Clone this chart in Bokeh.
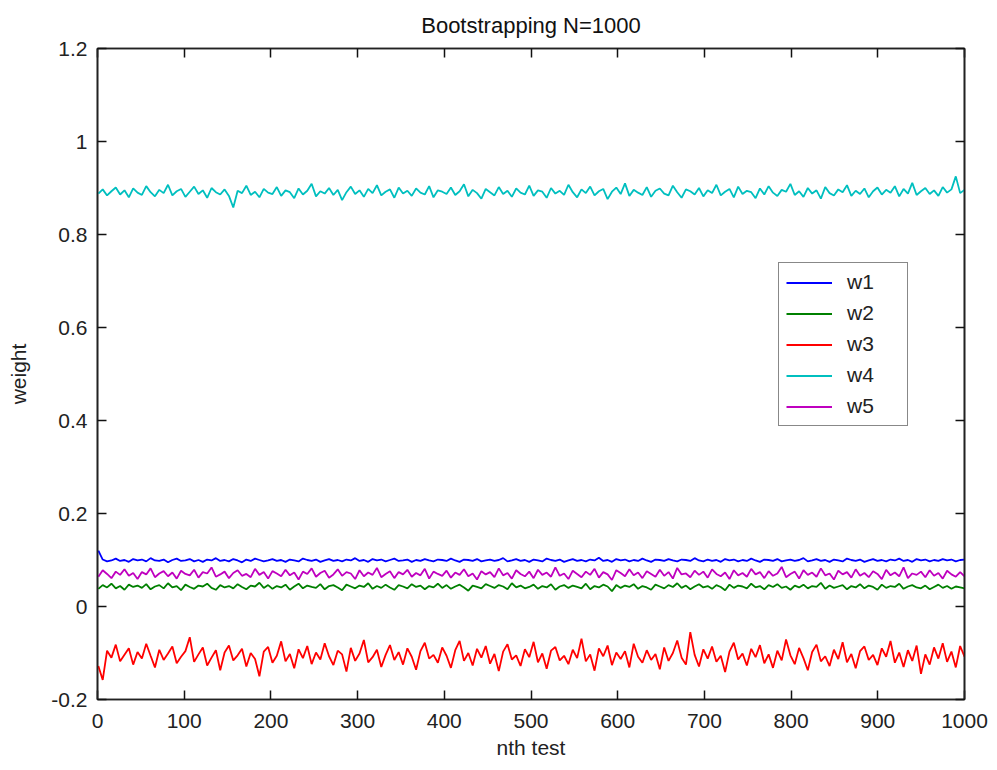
import numpy as np
from bokeh.plotting import figure
from bokeh.models import (Range1d, LinearAxis, FixedTicker, CustomJSTickFormatter,
                          Legend, LegendItem, ColumnDataSource)
from bokeh.embed import file_html
from bokeh.resources import INLINE

# ---------------- data (weights in thousandths) ----------------
n_tests = 1000
n_samples = 200

x_ticks = [0, 100, 200, 300, 400, 500, 600, 700, 800, 900, 1000]
y_ticks = [-0.2, 0, 0.2, 0.4, 0.6, 0.8, 1, 1.2]
y_tick_labels = ["-0.2", "0", "0.2", "0.4", "0.6", "0.8", "1", "1.2"]

w1_milli = [
    120, 101, 97, 99, 103, 98, 100, 96, 102, 99,
    101, 97, 104, 99, 98, 101, 95, 100, 103, 98,
    99, 102, 97, 100, 96, 101, 99, 104, 98, 100,
    97, 102, 99, 95, 101, 98, 103, 100, 97, 99,
    102, 98, 100, 96, 101, 99, 97, 103, 100, 98,
    101, 96, 99, 102, 98, 100, 97, 101, 99, 104,
    98, 100, 96, 102, 99, 101, 97, 100, 103, 98,
    99, 101, 96, 100, 98, 102, 99, 97, 101, 100,
    98, 103, 99, 96, 101, 100, 98, 102, 97, 99,
    101, 98, 100, 104, 97, 99, 102, 98, 100, 96,
    101, 99, 97, 103, 100, 98, 101, 96, 99, 102,
    98, 100, 97, 101, 99, 105, 98, 100, 96, 102,
    99, 101, 97, 100, 98, 103, 99, 96, 101, 100,
    98, 102, 99, 97, 101, 100, 98, 104, 99, 97,
    101, 98, 100, 96, 102, 99, 101, 97, 100, 98,
    103, 99, 96, 101, 100, 98, 102, 97, 99, 101,
    98, 100, 104, 97, 99, 102, 98, 100, 96, 101,
    99, 97, 103, 100, 98, 101, 96, 99, 102, 98,
    100, 97, 101, 99, 103, 98, 100, 96, 102, 99,
    101, 97, 100, 98, 102, 99, 101, 97, 100, 101,
]

w2_milli = [
    38, 46, 41, 49, 39, 44, 36, 47, 42, 45,
    40, 48, 37, 43, 46, 39, 50, 41, 44, 35,
    47, 42, 38, 45, 43, 49, 40, 36, 46, 41,
    44, 39, 48, 42, 37, 45, 43, 51, 40, 46,
    38, 44, 41, 47, 36, 43, 49, 39, 45, 42,
    40, 48, 37, 44, 46, 41, 35, 47, 43, 39,
    45, 42, 50, 38, 44, 40, 47, 41, 36, 46,
    43, 39, 48, 42, 45, 37, 44, 41, 49, 40,
    46, 38, 43, 47, 41, 34, 45, 42, 39, 48,
    44, 40, 46, 43, 37, 50, 41, 45, 39, 42,
    47, 38, 44, 41, 48, 36, 43, 46, 40, 45,
    42, 39, 49, 37, 44, 41, 47, 43, 33, 46,
    40, 45, 42, 48, 38, 44, 41, 36, 47, 43,
    39, 46, 42, 50, 40, 45, 37, 43, 48, 41,
    44, 38, 46, 42, 35, 47, 40, 45, 43, 39,
    49, 41, 44, 37, 46, 42, 48, 40, 43, 36,
    45, 41, 47, 39, 44, 42, 51, 38, 45, 40,
    43, 46, 37, 44, 41, 48, 39, 45, 42, 36,
    47, 40, 44, 42, 49, 38, 43, 46, 41, 39,
    45, 37, 42, 47, 40, 44, 38, 43, 41, 39,
]

w3_milli = [
    -128, -158, -95, -110, -82, -118, -104, -90, -125, -98,
    -112, -80, -106, -131, -93, -115, -101, -86, -122, -108,
    -96, -66, -119, -103, -88, -127, -110, -94, -137, -99,
    -84, -116, -105, -91, -129, -100, -113, -150, -97, -87,
    -121, -106, -75, -118, -102, -133, -92, -111, -85, -124,
    -99, -114, -79, -107, -126, -95, -103, -140, -89, -117,
    -101, -72, -120, -109, -93, -130, -104, -83, -115, -98,
    -125, -90, -108, -136, -96, -78, -112, -104, -121, -88,
    -106, -132, -94, -74, -117, -100, -127, -91, -110, -85,
    -123, -102, -139, -97, -81, -114, -105, -128, -92, -109,
    -76, -120, -101, -134, -95, -87, -116, -106, -124, -93,
    -111, -69, -118, -103, -138, -90, -107, -84, -126, -99,
    -113, -96, -131, -80, -108, -121, -94, -115, -102, -135,
    -88, -117, -100, -73, -110, -125, -55, -104, -129, -92,
    -112, -86, -119, -106, -141, -97, -78, -114, -101, -127,
    -91, -109, -83, -122, -103, -132, -95, -116, -71, -105,
    -124, -89, -111, -137, -98, -82, -118, -107, -128, -93,
    -113, -77, -120, -102, -133, -96, -86, -115, -104, -126,
    -90, -108, -74, -121, -99, -130, -94, -117, -84, -145,
    -103, -125, -88, -112, -79, -119, -97, -131, -85, -108,
]

w4_milli = [
    888, 897, 884, 893, 901, 886, 895, 880, 899, 890,
    885, 904, 891, 882, 896, 889, 907, 884, 893, 898,
    881, 892, 903, 887, 895, 879, 900, 891, 886, 897,
    883, 858, 894, 889, 905, 885, 892, 880, 898, 890,
    887, 902, 883, 895, 891, 878, 899, 886, 894, 909,
    882, 893, 888, 900, 885, 896, 874, 891, 903, 887,
    895, 881, 898, 889, 906, 884, 892, 897, 879, 901,
    888, 894, 883, 899, 890, 886, 904, 880, 895, 892,
    887, 901, 885, 893, 908, 882, 896, 889, 877, 898,
    891, 884, 902, 887, 894, 881, 899, 890, 886, 905,
    883, 895, 892, 879, 900, 888, 894, 885, 907, 891,
    880, 897, 889, 903, 884, 893, 898, 876, 892, 901,
    887, 910, 883, 896, 890, 885, 902, 881, 894, 899,
    888, 884, 905, 891, 879, 897, 893, 886, 900, 882,
    895, 889, 907, 884, 892, 898, 880, 903, 887, 894,
    891, 878, 899, 886, 904, 890, 883, 896, 892, 909,
    885, 893, 881, 900, 888, 895, 877, 902, 889, 884,
    897, 891, 906, 883, 894, 887, 899, 880, 893, 901,
    886, 896, 890, 904, 882, 898, 888, 911, 885, 893,
    900, 887, 895, 883, 902, 890, 897, 925, 889, 896,
]

w5_milli = [
    64, 78, 70, 61, 75, 68, 80, 66, 72, 59,
    74, 69, 82, 63, 71, 76, 65, 73, 60, 77,
    70, 67, 79, 62, 74, 71, 84, 64, 69, 75,
    61, 72, 78, 66, 70, 63, 81, 68, 74, 60,
    76, 71, 65, 79, 67, 73, 58, 75, 70, 82,
    64, 72, 77, 62, 69, 80, 66, 74, 71, 59,
    78, 65, 73, 68, 83, 63, 70, 76, 61, 74,
    69, 79, 64, 72, 67, 81, 60, 75, 70, 66,
    77, 62, 73, 68, 80, 65, 71, 58, 76, 69,
    74, 63, 82, 67, 72, 60, 78, 70, 65, 75,
    61, 79, 68, 73, 64, 84, 66, 71, 59, 77,
    70, 63, 75, 68, 81, 62, 74, 69, 57, 78,
    72, 65, 80, 67, 73, 61, 76, 70, 64, 79,
    66, 74, 60, 83, 69, 71, 63, 77, 68, 75,
    62, 80, 70, 65, 73, 59, 78, 67, 72, 64,
    81, 69, 74, 61, 76, 66, 71, 85, 63, 70,
    75, 60, 78, 68, 73, 64, 82, 67, 71, 58,
    77, 69, 74, 62, 80, 66, 72, 63, 76, 70,
    59, 79, 67, 73, 65, 84, 61, 71, 68, 75,
    63, 78, 66, 72, 60, 77, 69, 64, 74, 65,
]

series_names = ["w1", "w2", "w3", "w4", "w5"]
series_colors = ["#0000FF", "#008000", "#FF0000", "#00BFBF", "#BF00BF"]
series_values = [w1_milli, w2_milli, w3_milli, w4_milli, w5_milli]

tests = np.linspace(1, n_tests, n_samples)

FONT = "Liberation Sans"

p = figure(width=990, height=765, output_backend="svg", toolbar_location=None,
           x_range=Range1d(0, 1000), y_range=Range1d(-0.2, 1.2),
           min_border_left=97, min_border_right=26, min_border_top=48, min_border_bottom=66,
           background_fill_color="white", border_fill_color="white")

p.title.text = "Bootstrapping N=1000"
p.title.align = "center"
p.title.vertical_align = "top"
p.title.text_font = FONT
p.title.text_font_size = "22px"
p.title.text_font_style = "normal"
p.title.text_color = "#111111"
p.title.standoff = 18

p.xgrid.visible = False
p.ygrid.visible = False
p.outline_line_color = "#222222"
p.outline_line_width = 1.6

bottom_axis = p.below[0]
left_axis = p.left[0]

empty_fmt = CustomJSTickFormatter(code="return '';")

bottom_axis.ticker = FixedTicker(ticks=x_ticks)
left_axis.ticker = FixedTicker(ticks=y_ticks)
left_axis.major_label_overrides = {v: s for v, s in zip(y_ticks, y_tick_labels)}
bottom_axis.axis_label = "nth test"
left_axis.axis_label = "weight"

top_axis = LinearAxis(ticker=FixedTicker(ticks=x_ticks), formatter=empty_fmt)
right_axis = LinearAxis(ticker=FixedTicker(ticks=y_ticks), formatter=empty_fmt)
p.add_layout(top_axis, "above")
p.add_layout(right_axis, "right")

for ax in [bottom_axis, left_axis, top_axis, right_axis]:
    ax.axis_line_color = "#222222"
    ax.axis_line_width = 1.6
    ax.major_tick_in = 9
    ax.major_tick_out = 0
    ax.major_tick_line_color = "#111111"
    ax.major_tick_line_width = 1.5
    ax.minor_tick_line_color = None
    ax.major_label_text_font = FONT
    ax.major_label_text_font_size = "21px"
    ax.major_label_text_color = "#222222"
    ax.axis_label_text_font = FONT
    ax.axis_label_text_font_size = "21px"
    ax.axis_label_text_font_style = "normal"
    ax.axis_label_text_color = "#222222"

top_axis.major_label_standoff = 0
right_axis.major_label_standoff = 0
bottom_axis.major_label_standoff = 14
left_axis.major_label_standoff = 10
bottom_axis.axis_label_standoff = 5
left_axis.axis_label_standoff = 18

items = []
for name, color, vals in zip(series_names, series_colors, series_values):
    src = ColumnDataSource(dict(x=tests, y=np.array(vals) / 1000.0))
    r = p.line("x", "y", source=src, line_color=color, line_width=1.8)
    items.append(LegendItem(label=name, renderers=[r]))

legend = Legend(items=items, location=(681, 273))
legend.border_line_color = "#111111"
legend.border_line_width = 1.5
legend.background_fill_color = "white"
legend.background_fill_alpha = 1.0
legend.label_text_font = FONT
legend.label_text_font_size = "21px"
legend.label_text_color = "#222222"
legend.glyph_width = 46
legend.glyph_height = 23
legend.label_height = 23
legend.label_width = 53
legend.label_standoff = 15
legend.spacing = 7
legend.padding = 7
legend.margin = 0
p.add_layout(legend, "center")

open("out.html", "w").write(file_html(p, INLINE))
